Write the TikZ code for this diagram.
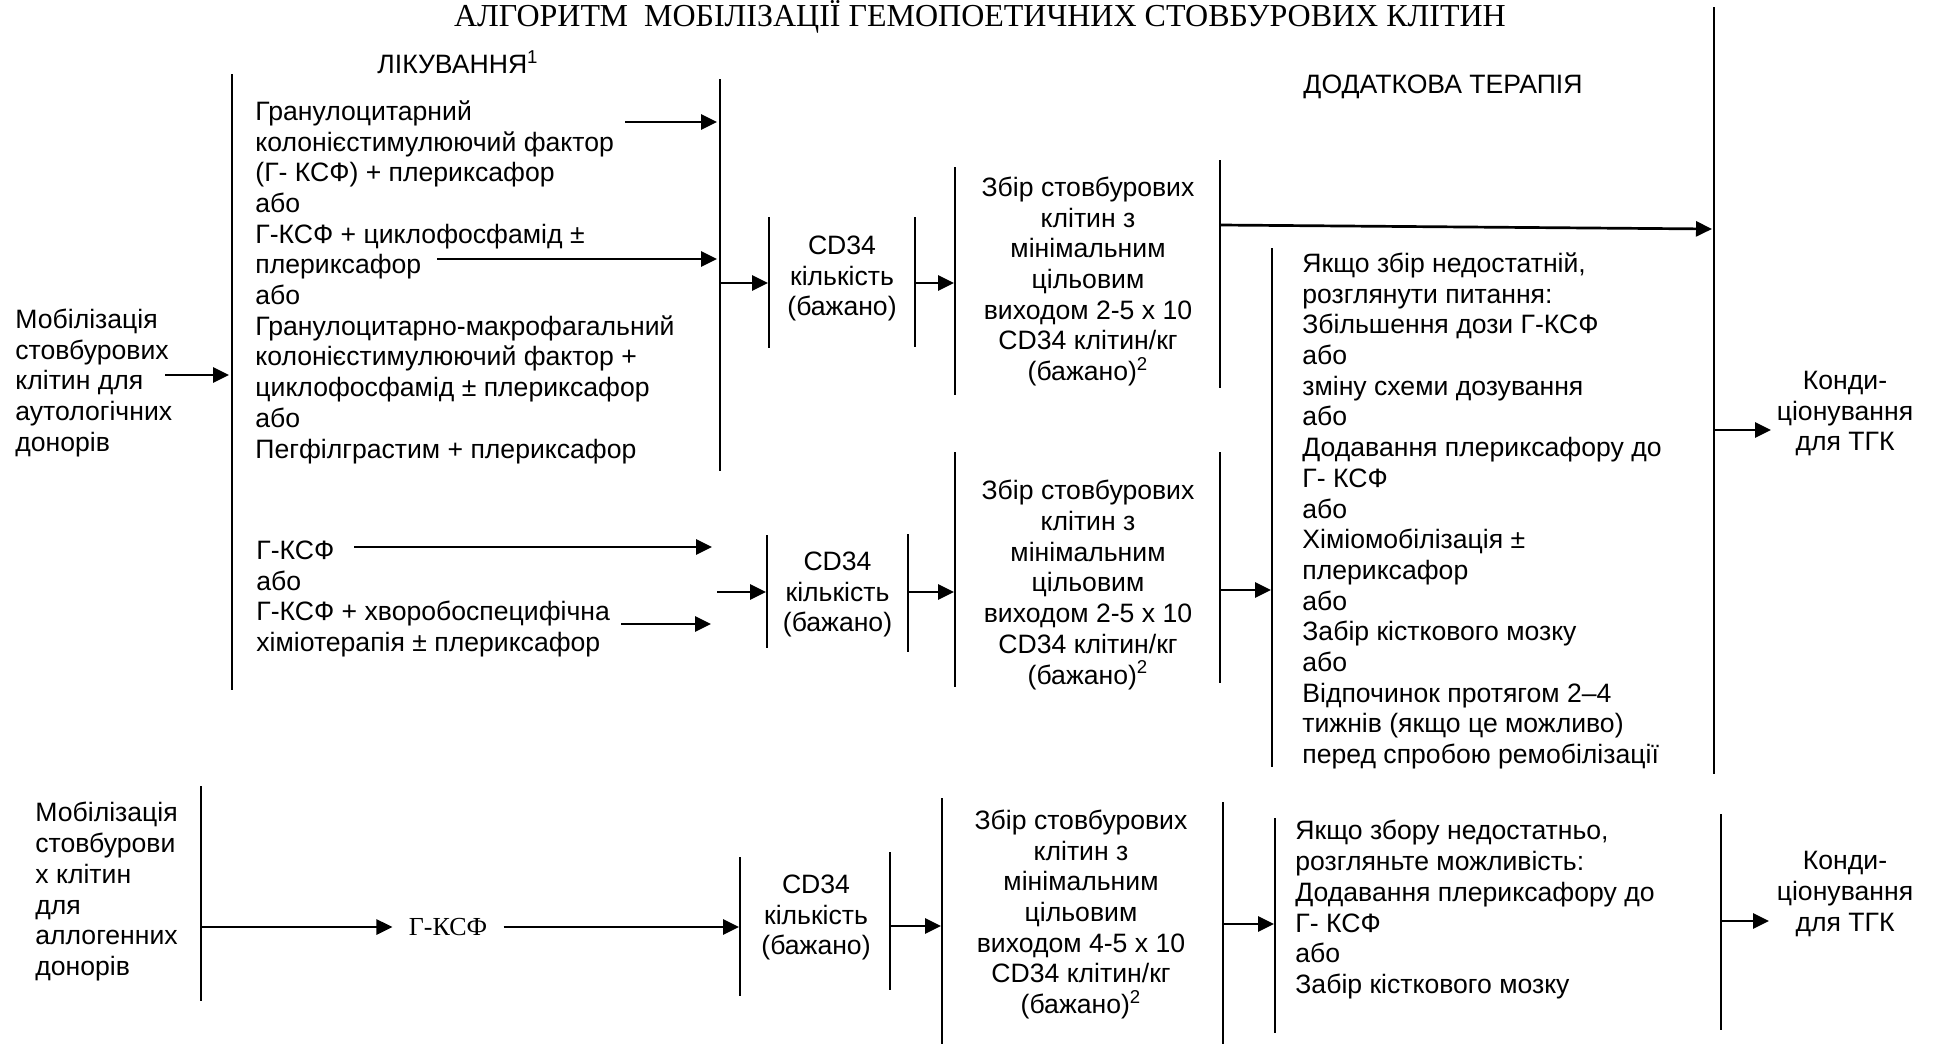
\documentclass[tikz,border=0pt]{standalone}
\usepackage{fontspec}
\setmainfont{Liberation Sans}
\newfontfamily\titlefont{Liberation Serif}
\usetikzlibrary{arrows.meta}
\tikzset{
  vline/.style={line width=1pt},
  arr/.style={line width=1.35pt,-{Triangle[length=8pt,width=7.5pt]}},
  blk/.style={inner sep=0pt, anchor=north west, align=left, font=\fontsize{13.3}{15.35}\selectfont},
  cblk/.style={inner sep=0pt, anchor=north, align=center, font=\fontsize{13.3}{15.35}\selectfont},
  hdr/.style={inner sep=0pt, anchor=base, font=\fontsize{13.3}{15.35}\selectfont},
}
\begin{document}
\begin{tikzpicture}[x=0.5pt,y=-0.5pt]
\useasboundingbox (0,0) rectangle (1933,1044);

% ---------- headings ----------
\node[inner sep=0pt, anchor=base, font=\titlefont\fontsize{16}{19}\selectfont] (title) at (980,26)
  {АЛГОРИТМ\ \ МОБІЛІЗАЦІЇ ГЕМОПОЕТИЧНИХ СТОВБУРОВИХ КЛІТИН};
\node[hdr] (likhdr) at (458,73.5) {ЛІКУВАННЯ\textsuperscript{1}};
\node[hdr] (dodhdr) at (1443,93.5) {ДОДАТКОВА ТЕРАПІЯ};

% ---------- vertical lines ----------
\coordinate (L1t) at (232,74);   \coordinate (L1b) at (232,690);
\coordinate (L2t) at (720,79);   \coordinate (L2b) at (720,471);
\coordinate (Ca1t) at (769,217); \coordinate (Ca1b) at (769,348);
\coordinate (Cb1t) at (915,217); \coordinate (Cb1b) at (915,347);
\coordinate (Za1t) at (955,167); \coordinate (Za1b) at (955,395);
\coordinate (Zb1t) at (1220,160);\coordinate (Zb1b) at (1220,388);
\coordinate (R1t) at (1714,7);   \coordinate (R1b) at (1714,774);
\coordinate (Yat) at (1272,248); \coordinate (Yab) at (1272,767);
\coordinate (Ca2t) at (767,535); \coordinate (Ca2b) at (767,648);
\coordinate (Cb2t) at (908,534); \coordinate (Cb2b) at (908,652);
\coordinate (Za2t) at (955,452); \coordinate (Za2b) at (955,687);
\coordinate (Zb2t) at (1220,452);\coordinate (Zb2b) at (1220,683);
\coordinate (L3t) at (201,786);  \coordinate (L3b) at (201,1001);
\coordinate (Ca3t) at (740,857); \coordinate (Ca3b) at (740,996);
\coordinate (Cb3t) at (890,852); \coordinate (Cb3b) at (890,990);
\coordinate (Za3t) at (942,798); \coordinate (Za3b) at (942,1044);
\coordinate (Zb3t) at (1223,802);\coordinate (Zb3b) at (1223,1044);
\coordinate (Ya3t) at (1275,818);\coordinate (Ya3b) at (1275,1033);
\coordinate (R3t) at (1721,814); \coordinate (R3b) at (1721,1030);

\foreach \p in {L1,L2,R1,L3,R3}{\draw[vline] (\p t) -- (\p b);}
\foreach \p in {Ca1,Cb1,Za1,Zb1,Ya,Ca2,Cb2,Za2,Zb2,Ca3,Cb3,Za3,Zb3,Ya3}{\draw[vline] (\p t) -- (\p b);}

% ---------- texts ----------
\node[blk] (auto) at (15,306.5) {\strut Мобілізація\\стовбурових\\клітин для\\аутологічних\\донорів};

\node[blk] (lik1) at (255,98.5) {\strut Гранулоцитарний\\колонієстимулюючий фактор\\(Г- КСФ) + плериксафор\\або\\Г-КСФ + циклофосфамід ±\\плериксафор\\або\\Гранулоцитарно-макрофагальний\\колонієстимулюючий фактор +\\циклофосфамід ± плериксафор\\або\\Пегфілграстим + плериксафор};

\node[cblk] (cd1) at (842,232.5) {\strut CD34\\кількість\\(бажано)};
\node[cblk] (zb1) at (1088,174.5) {\strut Збір стовбурових\\клітин з\\мінімальним\\цільовим\\виходом 2-5 x 10\\CD34 клітин/кг\\(бажано)\textsuperscript{2}};

\node[blk] (lik2) at (256,537.5) {\strut Г-КСФ\\або\\Г-КСФ + хворобоспецифічна\\хіміотерапія ± плериксафор};
\node[cblk] (cd2) at (837.5,548.5) {\strut CD34\\кількість\\(бажано)};
\node[cblk] (zb2) at (1088,478) {\strut Збір стовбурових\\клітин з\\мінімальним\\цільовим\\виходом 2-5 x 10\\CD34 клітин/кг\\(бажано)\textsuperscript{2}};

\node[blk] (dod1) at (1302,250.5) {\strut Якщо збір недостатній,\\розглянути питання:\\Збільшення дози Г-КСФ\\або\\зміну схеми дозування\\або\\Додавання плериксафору до\\Г- КСФ\\або\\Хіміомобілізація ±\\плериксафор\\або\\Забір кісткового мозку\\або\\Відпочинок протягом 2–4\\тижнів (якщо це можливо)\\перед спробою ремобілізації};

\node[cblk] (kond1) at (1845,367.5) {\strut Конди-\\ціонування\\для ТГК};

\node[blk] (allo) at (35,800) {\strut Мобілізація\\стовбурови\\х клітин\\для\\аллогенних\\донорів};
\node[inner sep=0pt, inner xsep=8pt, anchor=base, font=\titlefont\fontsize{13}{15}\selectfont] (gksf) at (448,935.5) {Г-КСФ};
\node[cblk] (cd3) at (816,871.5) {\strut CD34\\кількість\\(бажано)};
\node[cblk] (zb3) at (1081,807.5) {\strut Збір стовбурових\\клітин з\\мінімальним\\цільовим\\виходом 4-5 x 10\\CD34 клітин/кг\\(бажано)\textsuperscript{2}};
\node[blk] (dod3) at (1295,818) {\strut Якщо збору недостатньо,\\розгляньте можливість:\\Додавання плериксафору до\\Г- КСФ\\або\\Забір кісткового мозку};
\node[cblk] (kond3) at (1845,848) {\strut Конди-\\ціонування\\для ТГК};

% ---------- arrow start points ----------
\coordinate (sAuto) at (165,375);
\coordinate (sA1) at (625,122);
\coordinate (sA2) at (437,259);
\coordinate (sA3) at (720,283);
\coordinate (sA4) at (915,283);
\coordinate (sA5) at (1220,225);
\coordinate (eA5) at (1712,229);
\coordinate (sK1) at (1714,430);
\coordinate (eK1) at (1771,430);
\coordinate (sB1) at (354,547);
\coordinate (eB1) at (712,547);
\coordinate (sB2) at (621,624);
\coordinate (eB2) at (711,624);
\coordinate (sB3) at (717,592);
\coordinate (sB4) at (908,592);
\coordinate (sB5) at (1220,590);
\coordinate (sC1) at (201,927);
\coordinate (sC3) at (890,926);
\coordinate (sC4) at (1223,924);
\coordinate (sK3) at (1721,921);
\coordinate (eK3) at (1769,921);

% ---------- arrows ----------
\draw[arr] (sAuto) -- ([xshift=-1.5pt]sAuto -| L1t);
\draw[arr] (sA1) -- ([xshift=-1.5pt]sA1 -| L2t);
\draw[arr] (sA2) -- ([xshift=-1.5pt]sA2 -| L2t);
\draw[arr] (sA3) -- ([xshift=-0.5pt]sA3 -| Ca1t);
\draw[arr] (sA4) -- ([xshift=-0.5pt]sA4 -| Za1t);
\draw[arr] (sA5) -- (eA5);
\draw[arr] (sK1) -- (eK1);
\draw[arr] (sB1) -- (eB1);
\draw[arr] (sB2) -- (eB2);
\draw[arr] (sB3) -- ([xshift=-0.5pt]sB3 -| Ca2t);
\draw[arr] (sB4) -- ([xshift=-0.5pt]sB4 -| Za2t);
\draw[arr] (sB5) -- ([xshift=-0.5pt]sB5 -| Yat);
\draw[arr] (sC1) -- (sC1 -| gksf.west);
\draw[arr] (gksf.east |- sC1) -- ([xshift=-0.5pt]sC1 -| Ca3t);
\draw[arr] (sC3) -- ([xshift=-0.5pt]sC3 -| Za3t);
\draw[arr] (sC4) -- ([xshift=-0.5pt]sC4 -| Ya3t);
\draw[arr] (sK3) -- (eK3);
\end{tikzpicture}
\end{document}
